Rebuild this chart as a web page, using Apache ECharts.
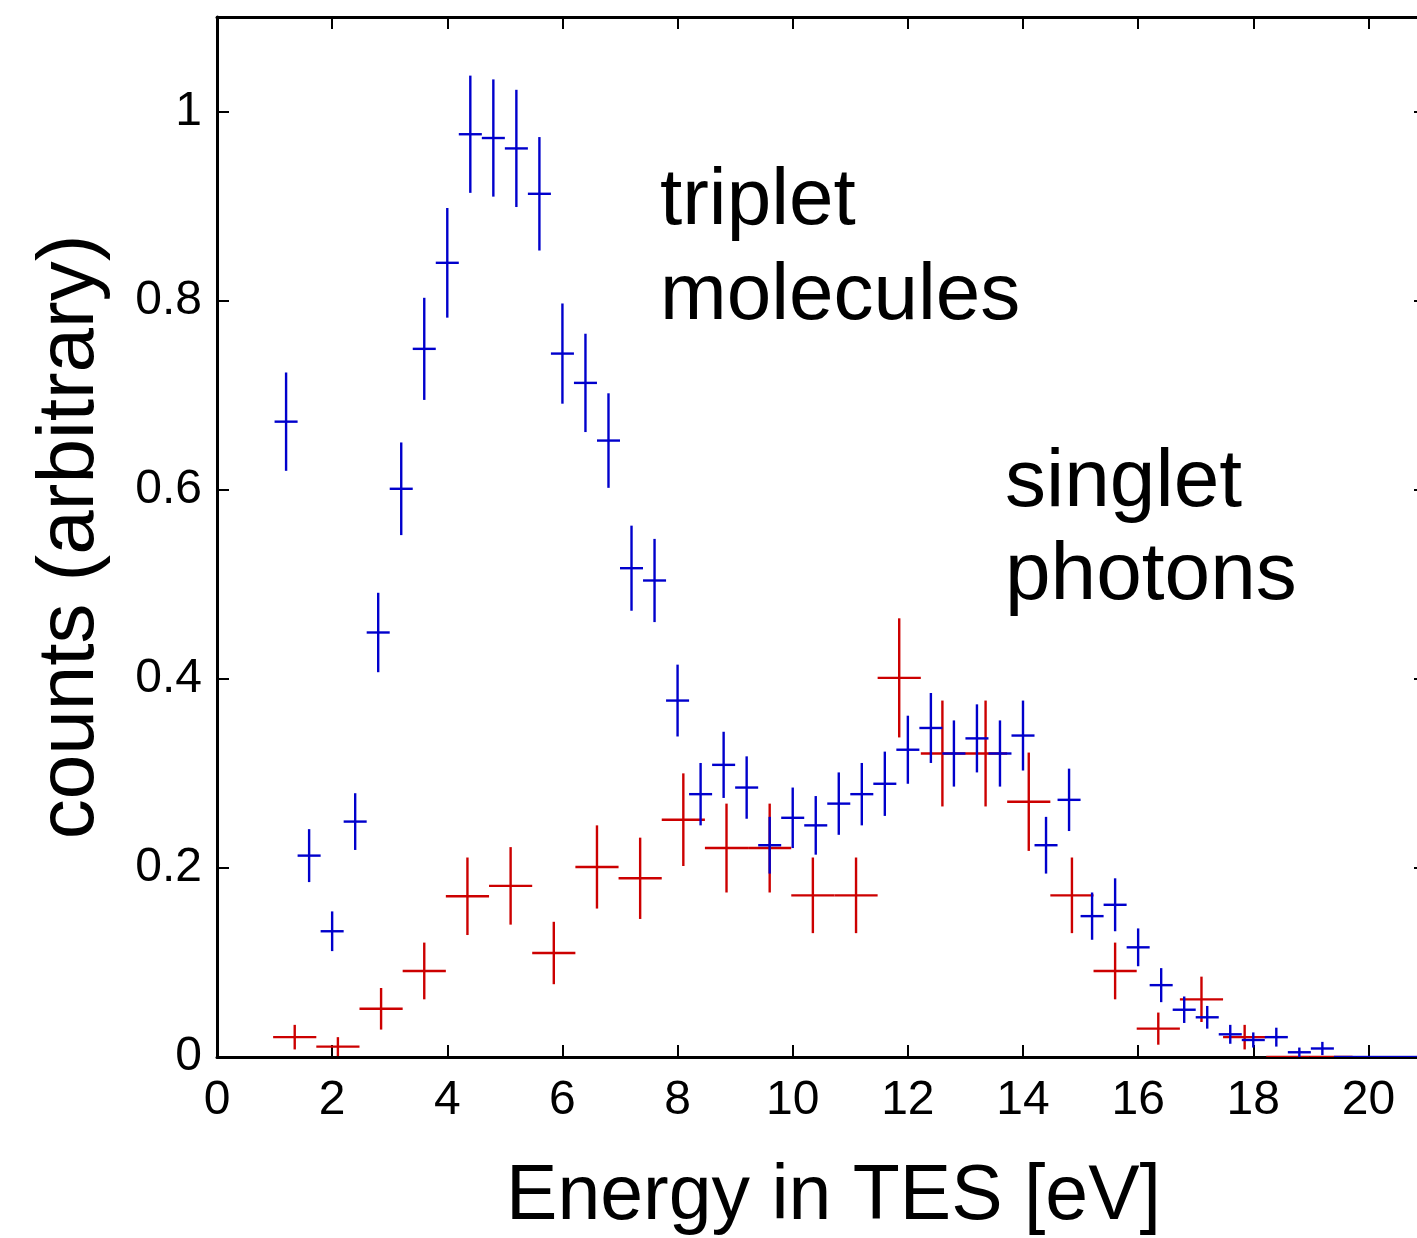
<!DOCTYPE html>
<html>
<head>
<meta charset="utf-8">
<title>Energy in TES</title>
<script src="https://cdn.jsdelivr.net/npm/echarts@6/dist/echarts.min.js"></script>
<style>
  html, body { margin: 0; padding: 0; background: #ffffff; }
  #chart { width: 1417px; height: 1238px; }
</style>
</head>
<body>
<div id="chart"></div>
<script>
// Triplet molecules (blue): bin centres [eV], counts, vertical error
const tripletEnergy = [1.2, 1.6, 2.0, 2.4, 2.8, 3.2, 3.6, 4.0, 4.4, 4.8,
  5.2, 5.6, 6.0, 6.4, 6.8, 7.2, 7.6, 8.0, 8.4, 8.8,
  9.2, 9.6, 10.0, 10.4, 10.8, 11.2, 11.6, 12.0, 12.4, 12.8,
  13.2, 13.6, 14.0, 14.4, 14.8, 15.2, 15.6, 16.0, 16.4, 16.8,
  17.2, 17.6, 18.0, 18.4, 18.8, 19.2, 19.6, 20.0, 20.4, 20.8];
const tripletCounts = [0.672, 0.213, 0.133, 0.249, 0.449, 0.601, 0.749, 0.840, 0.976, 0.972,
  0.961, 0.913, 0.744, 0.713, 0.652, 0.517, 0.504, 0.377, 0.278, 0.309,
  0.285, 0.224, 0.253, 0.245, 0.268, 0.278, 0.289, 0.325, 0.348, 0.321,
  0.337, 0.321, 0.340, 0.224, 0.272, 0.149, 0.161, 0.116, 0.076, 0.050,
  0.042, 0.024, 0.018, 0.021, 0.005, 0.009, 0, 0, 0, 0];
const tripletErr = [0.052, 0.028, 0.021, 0.030, 0.042, 0.049, 0.054, 0.058, 0.062, 0.062,
  0.062, 0.060, 0.053, 0.052, 0.050, 0.045, 0.044, 0.038, 0.033, 0.035,
  0.033, 0.030, 0.032, 0.031, 0.033, 0.033, 0.034, 0.036, 0.037, 0.035,
  0.036, 0.035, 0.037, 0.030, 0.033, 0.025, 0.028, 0.020, 0.018, 0.014,
  0.012, 0.010, 0.008, 0.010, 0.005, 0.007, 0, 0, 0, 0];
const tripletBinHalf = 0.2;

// Singlet photons (red): bin centres [eV], counts, vertical error
const singletEnergy = [1.35, 2.1, 2.85, 3.6, 4.35, 5.1, 5.85, 6.6, 7.35, 8.1,
  8.85, 9.6, 10.35, 11.1, 11.85, 12.6, 13.35, 14.1, 14.85, 15.6,
  16.35, 17.1, 17.85, 18.6, 19.35];
const singletCounts = [0.021, 0.011, 0.051, 0.091, 0.170, 0.181, 0.110, 0.201, 0.189, 0.251,
  0.221, 0.221, 0.171, 0.171, 0.401, 0.321, 0.321, 0.270, 0.171, 0.091,
  0.030, 0.061, 0.021, 0, 0];
const singletErr = [0.013, 0.010, 0.022, 0.030, 0.041, 0.041, 0.033, 0.044, 0.043, 0.049,
  0.047, 0.047, 0.040, 0.040, 0.063, 0.056, 0.056, 0.052, 0.040, 0.030,
  0.017, 0.024, 0.013, 0, 0];
const singletBinHalf = 0.375;

// Axis ticks
const xTicks = [0, 2, 4, 6, 8, 10, 12, 14, 16, 18, 20];
const yTicks = [0, 0.2, 0.4, 0.6, 0.8, 1];

const FONT = '"Liberation Sans", Arial, Helvetica, sans-serif';
const BLUE = '#0000cc';
const RED = '#cc0000';

function toRows(xs, ys, errs, half) {
  return xs.map((x, i) => [x, ys[i], half, errs[i]]);
}

// Cross-shaped error bar: horizontal = bin width, vertical = count error
function crossRenderer(color) {
  return function (params, api) {
    const x = api.value(0), y = api.value(1), dx = api.value(2), dy = api.value(3);
    const l = api.coord([x - dx, y]);
    const r = api.coord([x + dx, y]);
    const t = api.coord([x, y + dy]);
    const b = api.coord([x, y - dy]);
    const style = { stroke: color, lineWidth: 2.4, fill: null };
    const children = [
      { type: 'line', shape: { x1: l[0], y1: l[1], x2: r[0], y2: r[1] }, style: style }
    ];
    if (dy > 0) {
      children.push({ type: 'line', shape: { x1: t[0], y1: t[1], x2: b[0], y2: b[1] }, style: style });
    }
    return { type: 'group', children: children };
  };
}

const axisLineStyle = { color: '#000', width: 3 };
const tickStyle = { color: '#000', width: 2 };

function xLabel(v) { return xTicks.indexOf(v) >= 0 ? String(v) : ''; }
function yLabel(v) {
  const r = Math.round(v * 10) / 10;
  if (yTicks.indexOf(r) < 0 || Math.abs(r - v) > 1e-6) return '';
  return r === 0 ? '0' : (r === 1 ? '1' : r.toFixed(1));
}

const chart = echarts.init(document.getElementById('chart'), null, { renderer: 'canvas' });

chart.setOption({
  backgroundColor: '#ffffff',
  animation: false,
  // the frame runs slightly past the right edge of the canvas
  grid: { left: 217, top: 17, width: 1209, height: 1040, containLabel: false, outerBoundsMode: 'none' },
  xAxis: [{
    type: 'value', position: 'bottom', min: 0, max: 21, interval: 2,
    splitLine: { show: false },
    axisLine: { show: true, onZero: false, lineStyle: axisLineStyle },
    axisTick: { show: true, inside: true, length: 12, lineStyle: tickStyle },
    axisLabel: { show: true, margin: 20, fontSize: 48, color: '#000', fontFamily: FONT, formatter: xLabel },
    name: 'Energy in TES [eV]', nameLocation: 'middle', nameGap: 102,
    nameTextStyle: { fontSize: 77, color: '#000', fontFamily: FONT, padding: [0, 0, 0, 24] }
  }, {
    type: 'value', position: 'top', min: 0, max: 21, interval: 2,
    splitLine: { show: false },
    axisLine: { show: true, onZero: false, lineStyle: axisLineStyle },
    axisTick: { show: true, inside: true, length: 12, lineStyle: tickStyle },
    axisLabel: { show: false }
  }],
  yAxis: [{
    type: 'value', position: 'left', min: 0, max: 1.1, interval: 0.2,
    splitLine: { show: false },
    axisLine: { show: true, onZero: false, lineStyle: axisLineStyle },
    axisTick: { show: true, inside: true, length: 12, lineStyle: tickStyle },
    axisLabel: { show: true, margin: 15, fontSize: 48, color: '#000', fontFamily: FONT, formatter: yLabel },
    name: 'counts (arbitrary)', nameLocation: 'middle', nameGap: 106,
    nameTextStyle: { fontSize: 80, color: '#000', fontFamily: FONT }
  }, {
    type: 'value', position: 'right', min: 0, max: 1.1, interval: 0.2,
    splitLine: { show: false },
    axisLine: { show: true, onZero: false, lineStyle: axisLineStyle },
    axisTick: { show: true, inside: true, length: 12, lineStyle: tickStyle },
    axisLabel: { show: false }
  }],
  graphic: [
    { type: 'text', left: 660, top: 154, silent: true,
      style: { text: 'triplet\nmolecules', font: '80px ' + FONT, fill: '#000', lineHeight: 95 } },
    { type: 'text', left: 1005, top: 437, silent: true,
      style: { text: 'singlet\nphotons', font: '82px ' + FONT, fill: '#000', lineHeight: 93 } }
  ],
  series: [{
    name: 'singlet photons', type: 'custom', xAxisIndex: 0, yAxisIndex: 0,
    renderItem: crossRenderer(RED), clip: true, silent: true,
    encode: { x: 0, y: 1 },
    data: toRows(singletEnergy, singletCounts, singletErr, singletBinHalf), z: 3
  }, {
    name: 'triplet molecules', type: 'custom', xAxisIndex: 0, yAxisIndex: 0,
    renderItem: crossRenderer(BLUE), clip: true, silent: true,
    encode: { x: 0, y: 1 },
    data: toRows(tripletEnergy, tripletCounts, tripletErr, tripletBinHalf), z: 4
  }]
});
</script>
</body>
</html>
